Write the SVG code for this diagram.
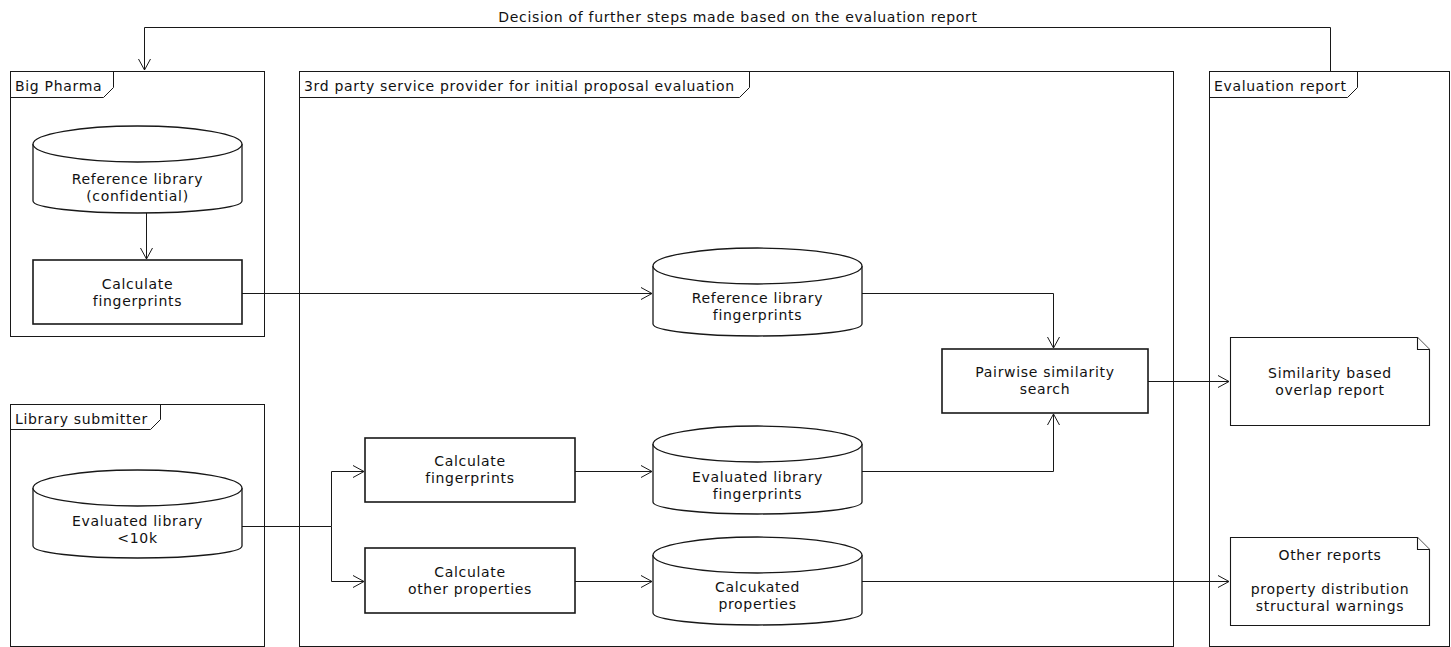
<svg xmlns="http://www.w3.org/2000/svg" width="1451" height="647" viewBox="0 0 1451 647">
<style>
text{font-family:"DejaVu Sans",sans-serif;font-size:14px;letter-spacing:0.68px;fill:#111}
.c{text-anchor:middle}
.frame{fill:none;stroke:#181818;stroke-width:1}
.box{fill:#fff;stroke:#181818;stroke-width:1.6}
.db{fill:#fff;stroke:#181818;stroke-width:1.3}
.note{fill:#fff;stroke:#181818;stroke-width:1.1}
.edge{fill:none;stroke:#181818;stroke-width:1;marker-end:url(#arr)}
.line{fill:none;stroke:#181818;stroke-width:1}
</style>
<defs>
<marker id="arr" markerUnits="userSpaceOnUse" markerWidth="14" markerHeight="14" viewBox="0 0 14 14" refX="12" refY="7" orient="auto">
<path d="M1,1 L12,7 L1,13" fill="none" stroke="#181818" stroke-width="1"/>
</marker>
</defs>
<rect width="1451" height="647" fill="#fff"/>

<g id="frame-bigpharma">
<rect class="frame" x="10.5" y="71.5" width="254" height="265"/>
<path class="frame" d="M10.5,97.5 L103.5,97.5 L113.5,87.5 L113.5,71.5"/>
<text x="15" y="91">Big Pharma</text>
</g>
<g id="frame-thirdparty">
<rect class="frame" x="299.5" y="71.5" width="874" height="575"/>
<path class="frame" d="M299.5,97.5 L739.5,97.5 L749.5,87.5 L749.5,71.5"/>
<text x="304" y="91">3rd party service provider for initial proposal evaluation</text>
</g>
<g id="frame-evalreport">
<rect class="frame" x="1209.5" y="71.5" width="240" height="575"/>
<path class="frame" d="M1209.5,97.5 L1347.5,97.5 L1357.5,87.5 L1357.5,71.5"/>
<text x="1214" y="91">Evaluation report</text>
</g>
<g id="frame-submitter">
<rect class="frame" x="10.5" y="404.5" width="254" height="242"/>
<path class="frame" d="M10.5,429.5 L150.5,429.5 L160.5,419.5 L160.5,404.5"/>
<text x="15" y="424">Library submitter</text>
</g>

<g id="connectors">
<path class="edge" d="M1330.5,71 L1330.5,27.5 L144.5,27.5 L144.5,70"/>
<text class="c" x="738" y="22">Decision of further steps made based on the evaluation report</text>
<path class="edge" d="M146.5,213 L146.5,259"/>
<path class="edge" d="M242,293.5 L652,293.5"/>
<path class="edge" d="M862,293.5 L1053.5,293.5 L1053.5,348"/>
<path class="edge" d="M1148,381.5 L1229,381.5"/>
<path class="line" d="M242,526.5 L331.5,526.5"/>
<path class="edge" d="M331.5,526.5 L331.5,471.5 L364,471.5"/>
<path class="edge" d="M331.5,526.5 L331.5,581.5 L364,581.5"/>
<path class="edge" d="M575,471.5 L652,471.5"/>
<path class="edge" d="M862,471.5 L1053.5,471.5 L1053.5,414"/>
<path class="edge" d="M575,581.5 L652,581.5"/>
<path class="edge" d="M862,581.5 L1229,581.5"/>
</g>

<g id="ref-library">
<path class="db" d="M33,144 A104.5,18 0 0 1 242,144 L242,201 A104.5,12 0 0 1 33,201 Z"/>
<path class="db" fill="none" d="M33,144 A104.5,18 0 0 0 242,144"/>
<text class="c" x="137.5" y="184">Reference library</text>
<text class="c" x="137.5" y="201">(confidential)</text>
</g>
<g id="calc-fp-bp">
<rect class="box" x="33" y="260" width="209" height="64"/>
<text class="c" x="137.5" y="289">Calculate</text>
<text class="c" x="137.5" y="306">fingerprints</text>
</g>
<g id="eval-library">
<path class="db" d="M33,488 A104.5,18 0 0 1 242,488 L242,546 A104.5,12 0 0 1 33,546 Z"/>
<path class="db" fill="none" d="M33,488 A104.5,18 0 0 0 242,488"/>
<text class="c" x="137.5" y="526">Evaluated library</text>
<text class="c" x="137.5" y="543">&lt;10k</text>
</g>
<g id="ref-lib-fp">
<path class="db" d="M653,266 A104.5,18 0 0 1 862,266 L862,324 A104.5,12 0 0 1 653,324 Z"/>
<path class="db" fill="none" d="M653,266 A104.5,18 0 0 0 862,266"/>
<text class="c" x="757.5" y="303">Reference library</text>
<text class="c" x="757.5" y="320">fingerprints</text>
</g>
<g id="calc-fp-3p">
<rect class="box" x="365" y="438" width="210" height="64"/>
<text class="c" x="470" y="466">Calculate</text>
<text class="c" x="470" y="483">fingerprints</text>
</g>
<g id="calc-other">
<rect class="box" x="365" y="548" width="210" height="65"/>
<text class="c" x="470" y="577">Calculate</text>
<text class="c" x="470" y="594">other properties</text>
</g>
<g id="eval-lib-fp">
<path class="db" d="M653,444 A104.5,18 0 0 1 862,444 L862,502 A104.5,12 0 0 1 653,502 Z"/>
<path class="db" fill="none" d="M653,444 A104.5,18 0 0 0 862,444"/>
<text class="c" x="757.5" y="482">Evaluated library</text>
<text class="c" x="757.5" y="499">fingerprints</text>
</g>
<g id="calc-props">
<path class="db" d="M653,555 A104.5,18 0 0 1 862,555 L862,613 A104.5,12 0 0 1 653,613 Z"/>
<path class="db" fill="none" d="M653,555 A104.5,18 0 0 0 862,555"/>
<text class="c" x="757.5" y="592">Calcukated</text>
<text class="c" x="757.5" y="609">properties</text>
</g>
<g id="pairwise">
<rect class="box" x="942" y="349" width="206" height="64"/>
<text class="c" x="1045" y="377">Pairwise similarity</text>
<text class="c" x="1045" y="394">search</text>
</g>
<g id="sim-report">
<path class="note" d="M1230.5,337.5 L1417.5,337.5 L1429.5,349.5 L1429.5,425.5 L1230.5,425.5 Z"/>
<path class="note" d="M1417.5,337.5 L1417.5,349.5 L1429.5,349.5"/>
<text class="c" x="1330" y="378">Similarity based</text>
<text class="c" x="1330" y="395">overlap report</text>
</g>
<g id="other-reports">
<path class="note" d="M1230.5,537.5 L1417.5,537.5 L1429.5,549.5 L1429.5,625.5 L1230.5,625.5 Z"/>
<path class="note" d="M1417.5,537.5 L1417.5,549.5 L1429.5,549.5"/>
<text class="c" x="1330" y="560">Other reports</text>
<text class="c" x="1330" y="594">property distribution</text>
<text class="c" x="1330" y="611">structural warnings</text>
</g>
</svg>
